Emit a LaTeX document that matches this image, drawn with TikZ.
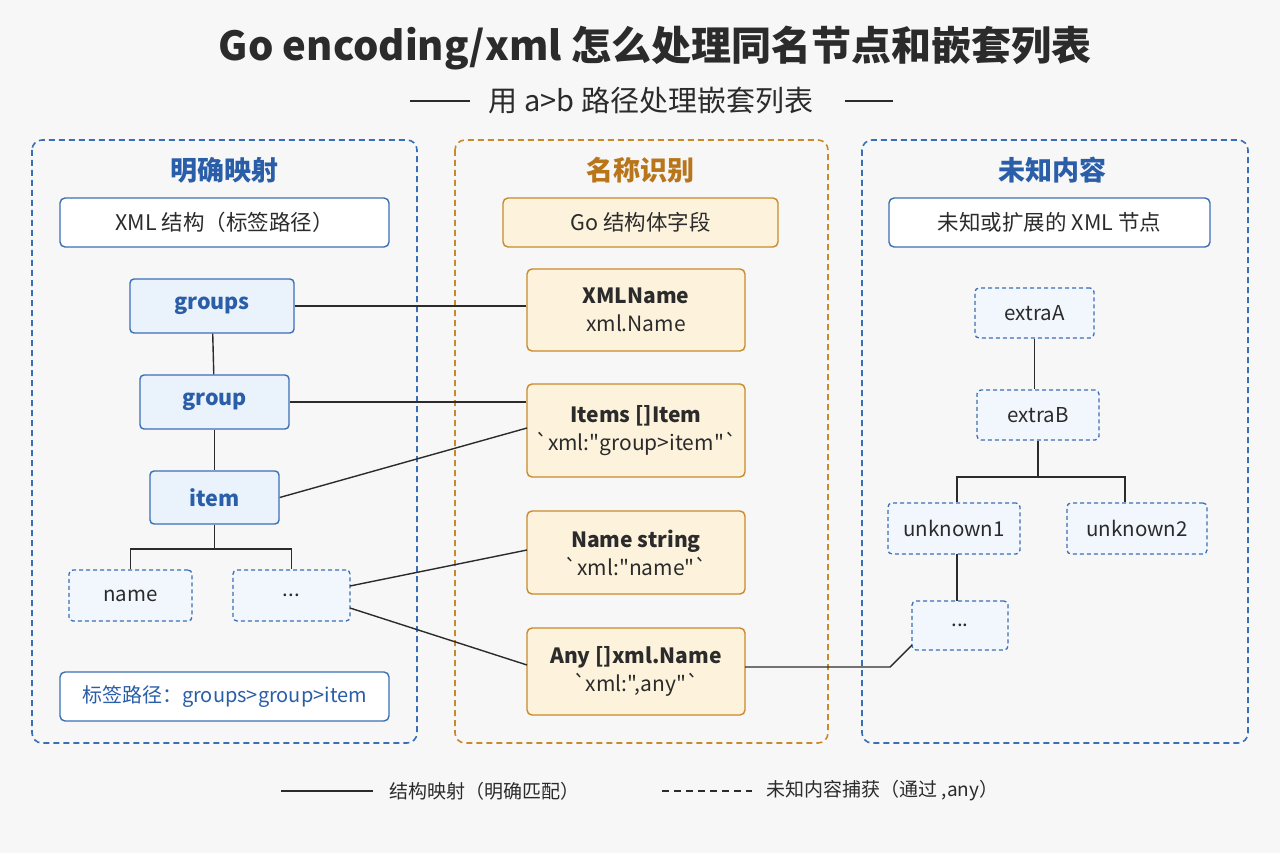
\documentclass[tikz,border=0pt]{standalone}
\usepackage{fontspec}
\setmainfont{Noto Sans CJK SC}
\newfontfamily\cj{Noto Sans CJK SC}
\usetikzlibrary{calc}
\definecolor{bl}{HTML}{3A6FB5}
\definecolor{blf}{HTML}{EAF2FC}
\definecolor{blt}{HTML}{2A5EA8}
\definecolor{or}{HTML}{C98A2B}
\definecolor{orf}{HTML}{FDF3DC}
\definecolor{ort}{HTML}{B8751A}
\definecolor{tx}{HTML}{2B2B2B}
\begin{document}
\begin{tikzpicture}[x=1pt,y=-1pt,
  panel/.style={draw=#1,dashed,line width=1.6pt,rounded corners=10pt,dash pattern=on 6pt off 4pt},
  ptitle/.style={font=\fontsize{27}{30}\selectfont\bfseries,text=#1},
  hbox/.style={draw=#1,line width=1.4pt,rounded corners=5pt,fill=white,font=\fontsize{21.5}{24}\selectfont,text=tx},
  bnode/.style={draw=bl,fill=blf,line width=1.4pt,rounded corners=4pt,font=\fontsize{21.5}{24}\selectfont\bfseries,text=blt},
  dnode/.style={draw=bl,fill=blf!60,dashed,dash pattern=on 4pt off 3pt,line width=1.3pt,rounded corners=4pt,font=\fontsize{20.5}{23}\selectfont,text=tx},
  onode/.style={draw=or,fill=orf,line width=1.4pt,rounded corners=5pt,font=\fontsize{21}{28}\selectfont,text=tx,align=center},
  conn/.style={draw=tx,line width=1.4pt}]
\fill[white!97!black] (0,0) rectangle (1280,853);
\useasboundingbox (0,0) rectangle (1280,853);
\node[font=\fontsize{40}{44}\selectfont\bfseries,text=tx] (title) at (655,48) {Go encoding/xml 怎么处理同名节点和嵌套列表};
\node[font=\fontsize{29}{32}\selectfont,text=tx] (sub) at (651,101) {用 a>b 路径处理嵌套列表};
\draw[tx,line width=1.2pt] (410,101) -- (470,101) (845,101) -- (893,101);
\draw[panel=bl] (32,140) rectangle (417,743);
\draw[panel=or] (455,140) rectangle (828,743);
\draw[panel=bl] (862,140) rectangle (1248,743);
\node[ptitle=blt] (t1) at (224,170) {明确映射};
\node[ptitle=ort] (t2) at (640,170) {名称识别};
\node[ptitle=blt] (t3) at (1052,170) {未知内容};
\node[hbox=bl,minimum width=329pt,minimum height=49pt] (h1) at (224.5,222.5) {XML 结构（标签路径）};
\node[hbox=or,fill=orf,minimum width=275pt,minimum height=49pt] (h2) at (640.5,222.5) {Go 结构体字段};
\node[hbox=bl,minimum width=321pt,minimum height=49pt] (h3) at (1049.5,222.5) {未知或扩展的 XML 节点};
\node[bnode,minimum width=164pt,minimum height=54pt] (groups) at (212,306) {groups};
\node[bnode,minimum width=149pt,minimum height=54pt] (group) at (214.5,402) {group};
\node[bnode,minimum width=129pt,minimum height=53pt] (item) at (214.5,497.5) {item};
\node[dnode,minimum width=123pt,minimum height=51pt] (name) at (130.5,595.5) {name};
\node[dnode,minimum width=117pt,minimum height=51pt] (dots) at (291.5,595.5) {...};
\node[hbox=bl,minimum width=329pt,minimum height=49pt,text=blt,font=\fontsize{20}{23}\selectfont] (path) at (224.5,696.5) {标签路径：groups>group>item};
\draw[conn] (groups) -- (group);
\draw[conn] (group) -- (item);
\coordinate (lj) at (214.5,549);
\draw[conn] (item.south) -- (lj);
\draw[conn] (name.north) |- (lj) -| (dots.north);
\node[onode,minimum width=218pt,minimum height=82pt] (xmln) at (636,310) {\textbf{XMLName}\\xml.Name};
\node[onode,minimum width=218pt,minimum height=93pt] (items) at (636,430.5) {\textbf{Items []Item}\\{\cj `xml:"group>item"`}};
\node[onode,minimum width=218pt,minimum height=83pt] (nstr) at (636,552.5) {\textbf{Name string}\\{\cj `xml:"name"`}};
\node[onode,minimum width=218pt,minimum height=87pt] (any) at (636,671.5) {\textbf{Any []xml.Name}\\{\cj `xml:",any"`}};
\draw[conn] (groups.east) -- (xmln.west |- groups.east);
\draw[conn] (group.east) -- (items.west |- group.east);
\draw[conn] (item.east) -- (527,428);
\draw[conn] (350,586) -- (527,550);
\draw[conn] (350,608) -- (527,665);
\node[dnode,minimum width=119pt,minimum height=50pt] (ea) at (1034.5,313) {extraA};
\node[dnode,minimum width=122pt,minimum height=50pt] (eb) at (1038,415) {extraB};
\node[dnode,minimum width=132pt,minimum height=51pt] (u1) at (954,528.5) {unknown1};
\node[dnode,minimum width=140pt,minimum height=51pt] (u2) at (1137,528.5) {unknown2};
\node[dnode,minimum width=96pt,minimum height=49pt] (d3) at (960,625.5) {...};
\draw[conn] (ea) -- (ea |- eb.north);
\coordinate (rj) at (1038,477);
\draw[conn] (eb.south) -- (rj);
\draw[conn] (u1.north -| 957,0) |- (rj) -| (u2.north -| 1125,0);
\draw[conn] (957,554) -- (957,601);
\draw[conn] (745,667) -- (890,667) -- (912,645);
\coordinate (l1a) at (281,791); \coordinate (l1b) at (373,791);
\coordinate (l2a) at (662,791); \coordinate (l2b) at (752,791);
\draw[conn] (l1a) -- (l1b);
\draw[conn,dash pattern=on 7pt off 5pt] (l2a) -- (l2b);
\node[anchor=west,font=\fontsize{19}{22}\selectfont,text=tx] (lg1) at (386,791) {结构映射（明确匹配）};
\node[anchor=west,font=\fontsize{19}{22}\selectfont,text=tx] (lg2) at (763,791) {未知内容捕获（通过 ,any）};
\end{tikzpicture}
\end{document}
